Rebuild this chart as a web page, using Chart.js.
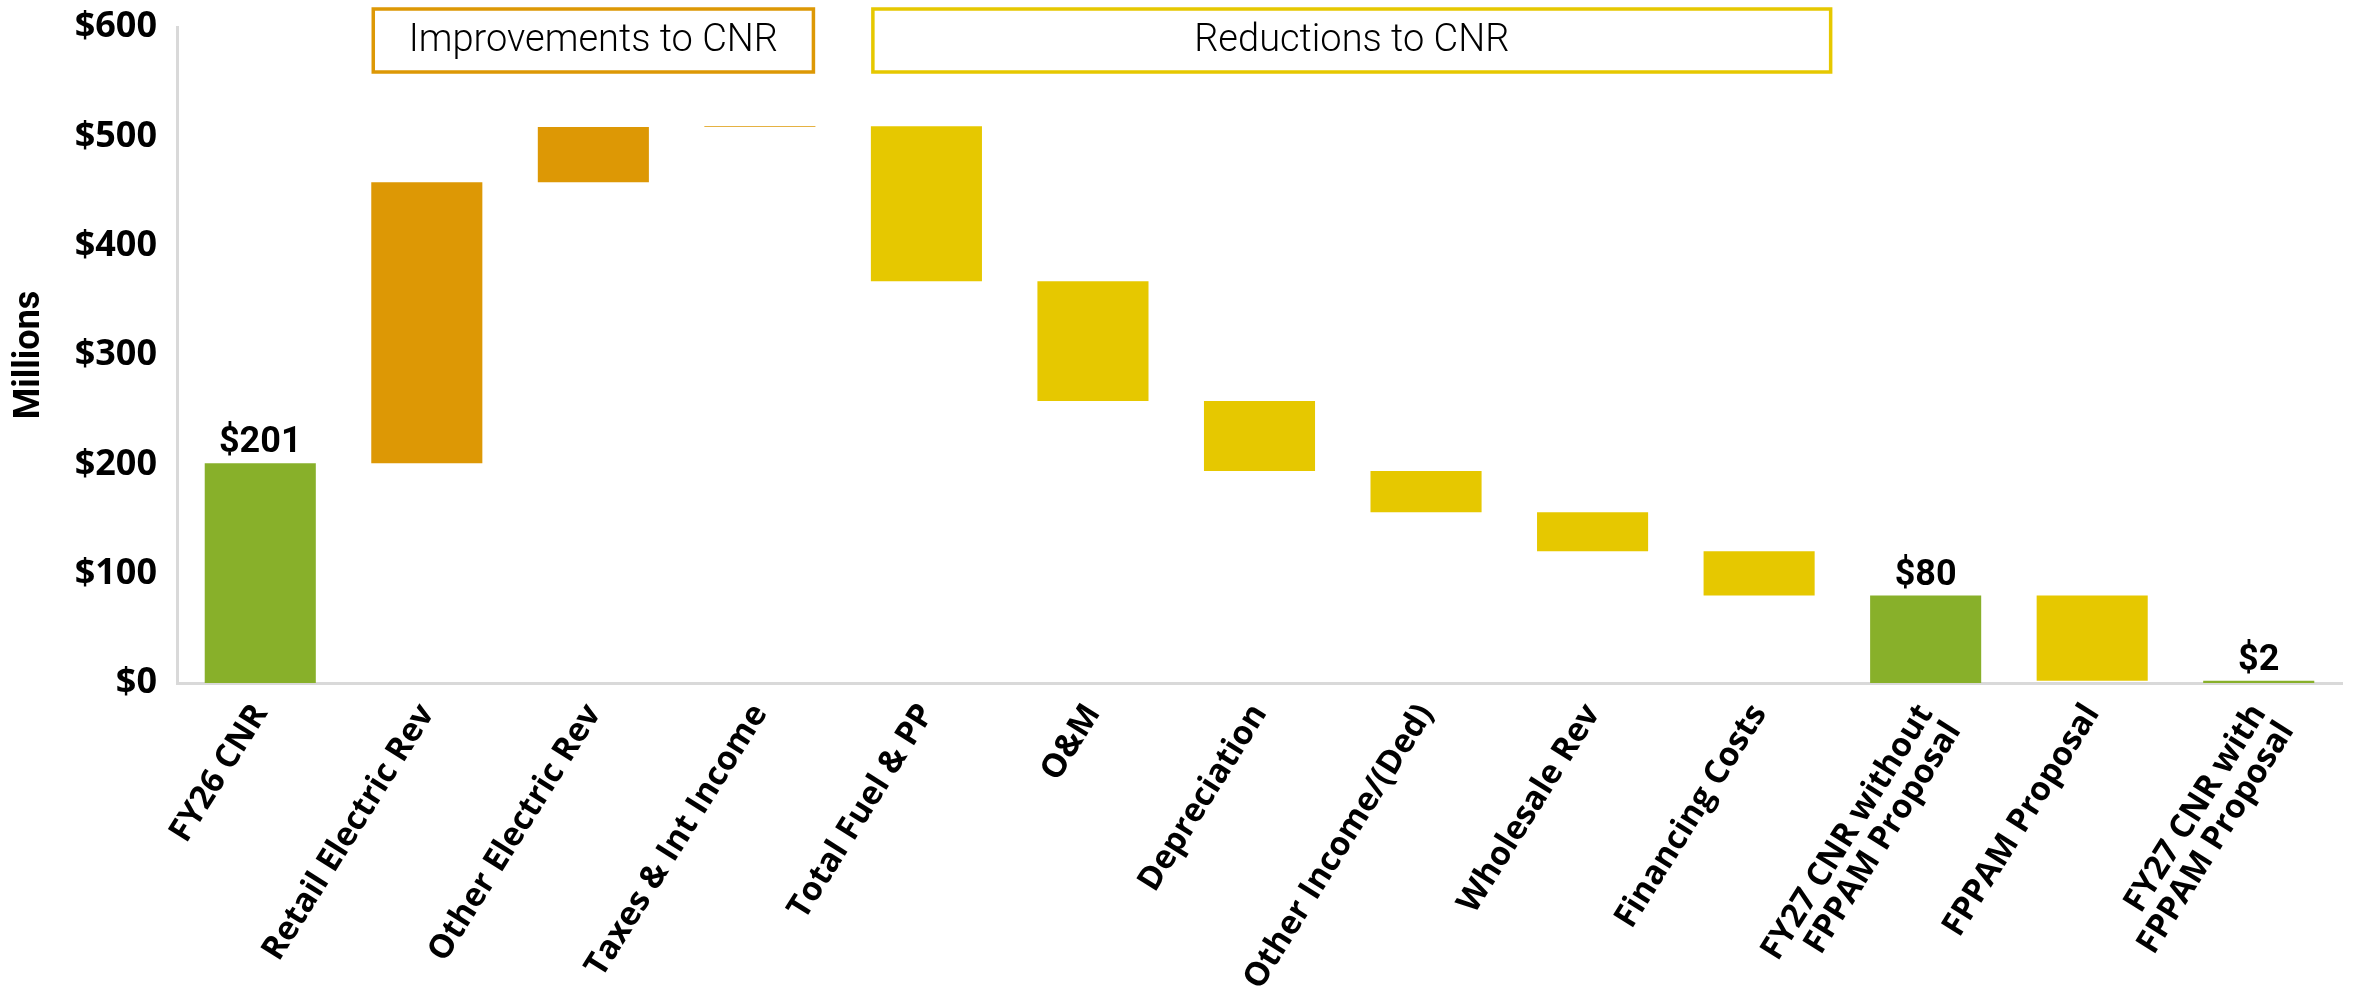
<!DOCTYPE html>
<html>
<head>
<meta charset="utf-8">
<script src="https://cdn.jsdelivr.net/npm/chart.js@4.4.1/dist/chart.umd.min.js"></script>
<style>
  html, body { margin: 0; padding: 0; background: #ffffff; }
  #wrap { width: 2354px; height: 1006px; position: relative; }
</style>
</head>
<body>
<div id="wrap"><canvas id="cnr" width="2354" height="1006"></canvas></div>
<script>
// Category labels (multi-line ones as arrays)
const categories = [
  'FY26 CNR', 'Retail Electric Rev', 'Other Electric Rev', 'Taxes & Int Income',
  'Total Fuel & PP', 'O&M', 'Depreciation', 'Other Income/(Ded)', 'Wholesale Rev',
  'Financing Costs', ['FY27 CNR without', 'FPPAM Proposal'], 'FPPAM Proposal',
  ['FY27 CNR with', 'FPPAM Proposal']
];
// CNR totals in $ millions (null where the column is a change step)
const totals = [201, null, null, null, null, null, null, null, null, null, 80, null, 2];
// Changes to CNR in $ millions (null where the column is a total)
const changes = [null, 257, 50.5, 0.7, -141.7, -109.5, -64.1, -37.7, -35.7, -40.5, null, -78, null];
// Y axis tick values
const yTicks = [0, 100, 200, 300, 400, 500, 600];
// Header boxes above the change columns
const groupNames = ['Improvements to CNR', 'Reductions to CNR'];
const groupFirst = [1, 4];
const groupLast = [3, 9];

const GREEN = '#88B02A';
const ORANGE = '#DD9805';
const YELLOW = '#E6C800';

// Floating [low, high] bars for the waterfall
const floating = [];
const colors = [];
let running = 0;
for (let i = 0; i < categories.length; i++) {
  if (totals[i] !== null) {
    running = totals[i];
    floating.push([0, totals[i]]);
    colors.push(GREEN);
  } else {
    const start = running;
    running = running + changes[i];
    floating.push([Math.min(start, running), Math.max(start, running)]);
    colors.push(changes[i] >= 0 ? ORANGE : YELLOW);
  }
}

const totalLabels = {
  id: 'totalLabels',
  afterDatasetsDraw(chart) {
    const ctx = chart.ctx;
    const meta = chart.getDatasetMeta(0);
    ctx.save();
    ctx.fillStyle = '#000000';
    ctx.font = 'bold 36px Roboto, "Liberation Sans", sans-serif';
    ctx.textAlign = 'center';
    ctx.textBaseline = 'alphabetic';
    totals.forEach((t, i) => {
      if (t === null) return;
      const el = meta.data[i];
      ctx.fillText('$' + t, el.x, el.y - 11);
    });
    ctx.restore();
  }
};

const groupBoxes = {
  id: 'groupBoxes',
  afterDraw(chart) {
    const ctx = chart.ctx;
    const meta = chart.getDatasetMeta(0);
    const boxColors = [ORANGE, YELLOW];
    const extraRight = [0, 18];
    ctx.save();
    groupNames.forEach((name, g) => {
      const a = meta.data[groupFirst[g]];
      const b = meta.data[groupLast[g]];
      const left = a.x - a.width / 2 + 2;
      const right = b.x + b.width / 2 - 2 + extraRight[g];
      const top = 9, bottom = 72;
      ctx.fillStyle = '#ffffff';
      ctx.fillRect(left, top, right - left, bottom - top);
      ctx.strokeStyle = boxColors[g];
      ctx.lineWidth = 3.5;
      ctx.strokeRect(left, top, right - left, bottom - top);
      ctx.fillStyle = '#000000';
      ctx.font = '300 38px Roboto, "Open Sans", sans-serif';
      ctx.textAlign = 'center';
      ctx.textBaseline = 'middle';
      ctx.fillText(name, (left + right) / 2, (top + bottom) / 2 + 1);
    });
    ctx.restore();
  }
};

new Chart(document.getElementById('cnr'), {
  type: 'bar',
  data: {
    labels: categories,
    datasets: [{
      data: floating,
      backgroundColor: colors,
      borderWidth: 0,
      barPercentage: 0.667,
      categoryPercentage: 1.0
    }]
  },
  options: {
    responsive: false,
    animation: false,
    layout: { padding: { top: 27, right: 12, left: 0, bottom: 0 } },
    plugins: { legend: { display: false }, tooltip: { enabled: false } },
    scales: {
      x: {
        grid: { display: false, drawTicks: false },
        border: { display: true, color: '#d9d9d9', width: 3 },
        ticks: {
          autoSkip: false,
          maxRotation: 58,
          minRotation: 58,
          padding: 16,
          color: '#000000',
          font: { family: '"Open Sans", sans-serif', weight: '700', size: 33, lineHeight: 1.0 }
        },
        afterFit(scale) { scale.height = 323; }
      },
      y: {
        min: 0,
        max: 600,
        afterBuildTicks(scale) { scale.ticks = yTicks.map(v => ({ value: v })); },
        grid: { display: false, drawTicks: false },
        border: { display: true, color: '#d9d9d9', width: 3 },
        ticks: {
          padding: 20,
          color: '#000000',
          font: { family: '"Open Sans", sans-serif', weight: '700', size: 36 },
          callback: v => '$' + v
        },
        title: {
          display: true,
          text: 'Millions',
          color: '#000000',
          padding: { top: 8, bottom: 0 },
          font: { family: 'Roboto, "Liberation Sans", sans-serif', weight: 'bold', size: 36 }
        },
        afterFit(scale) {
          scale.width = 177;
          scale.paddingTop = 0;
          scale.paddingBottom = 0;
        }
      }
    }
  },
  plugins: [totalLabels, groupBoxes]
});
</script>
</body>
</html>
